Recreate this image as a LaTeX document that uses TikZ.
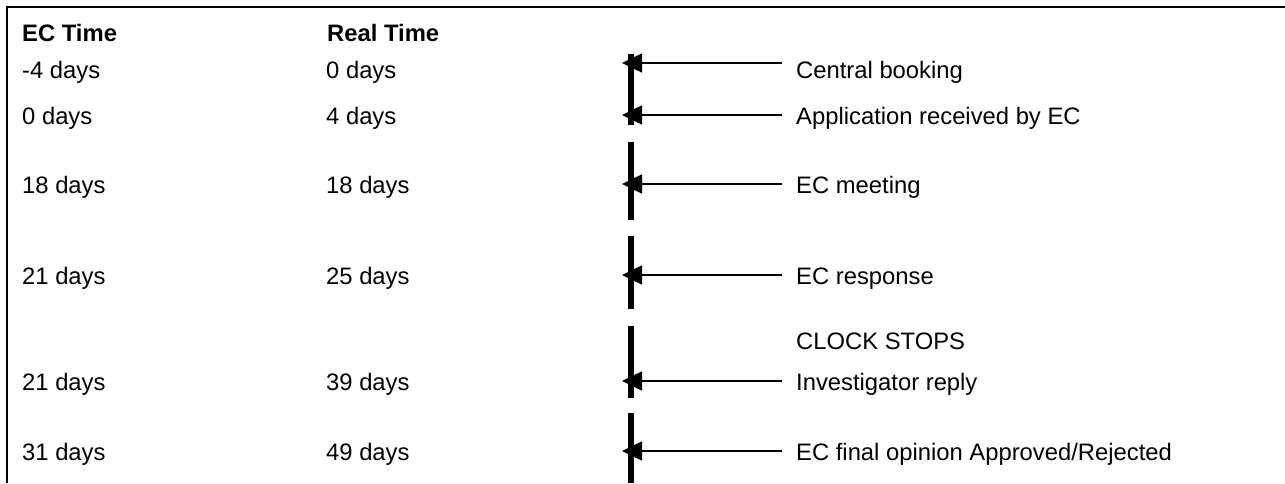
\documentclass[tikz,border=0pt]{standalone}
\usepackage{fontspec}
\setmainfont{Liberation Sans}
\usetikzlibrary{arrows.meta}
\begin{document}
\begin{tikzpicture}[x=1pt,y=-1pt,
  txt/.style={anchor=base west,inner sep=0pt,font=\fontsize{23.8}{28}\selectfont},
  hdr/.style={anchor=base west,inner sep=0pt,font=\fontsize{23.8}{28}\selectfont\bfseries},
  barseg/.style={line width=6pt},
  ptr/.style={line width=1.5pt,-{Triangle[length=20pt,width=19pt]}},
  framestyle/.style={line width=2.5pt}]
\useasboundingbox (0,0) rectangle (1285,483);
% frame
\coordinate (fa) at (7,483);
\coordinate (fb) at (7,7);
\coordinate (fc) at (1285,7);
\draw[framestyle] (fa) -- (fb) -- (fc);
% headers
\node[hdr] (h1) at (22,41) {EC Time};
\node[hdr] (h2) at (327,41) {Real Time};
% EC time column
\node[txt] (e1) at (22,78) {-4 days};
\node[txt] (e2) at (22,124) {0 days};
\node[txt] (e3) at (22,193) {18 days};
\node[txt] (e4) at (22,284) {21 days};
\node[txt] (e5) at (22,390) {21 days};
\node[txt] (e6) at (22,460) {31 days};
% Real time column
\node[txt] (r1) at (326,78) {0 days};
\node[txt] (r2) at (326,124) {4 days};
\node[txt] (r3) at (326,193) {18 days};
\node[txt] (r4) at (326,284) {25 days};
\node[txt] (r5) at (326,390) {39 days};
\node[txt] (r6) at (326,460) {49 days};
% bar segments
\foreach \i/\a/\b in {1/54/125,2/142/220,3/236/309,4/326/398,5/413/483}{
  \coordinate (bt\i) at (631,\a);
  \coordinate (bb\i) at (631,\b);
  \draw[barseg] (bt\i) -- (bb\i);
}
% labels
\node[txt] (l1) at (796,78) {Central booking};
\node[txt] (l2) at (796,124) {Application received by EC};
\node[txt] (l3) at (796,193) {EC meeting};
\node[txt] (l4) at (796,284) {EC response};
\node[txt] (l0) at (796,349) {CLOCK STOPS};
\node[txt] (l5) at (796,390) {Investigator reply};
\node[txt] (l6) at (796,460) {EC final opinion Approved/Rejected};
% arrows
\foreach \i/\y in {1/63,2/115,3/184,4/275,5/381,6/451}{
  \coordinate (as\i) at (782,\y);
  \coordinate (at\i) at (622,\y);
  \draw[ptr] (as\i) -- (at\i);
}
\end{tikzpicture}
\end{document}
